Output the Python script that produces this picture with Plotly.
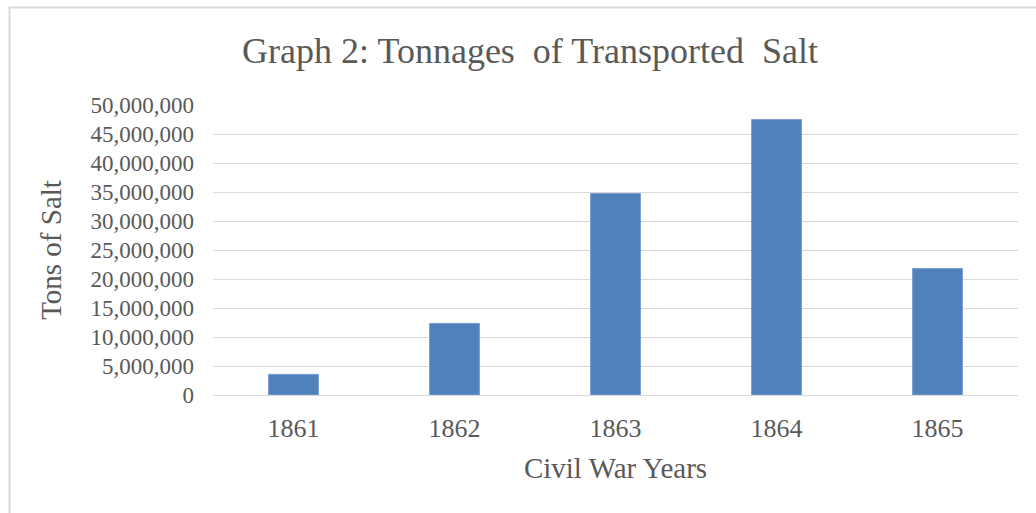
import plotly.graph_objects as go

years = ["1861", "1862", "1863", "1864", "1865"]
tons = [3560000, 12350000, 34740000, 47490000, 21820000]
y_ticks = [0, 5000000, 10000000, 15000000, 20000000, 25000000,
           30000000, 35000000, 40000000, 45000000, 50000000]
y_tick_text = ["0" if v == 0 else f"{v:,}" for v in y_ticks]

W, H = 1036, 513
ml, mr, mt, mb = 213, 18, 105, 118
pw, ph = W - ml - mr, H - mt - mb

FONT = "Liberation Serif, Times New Roman, serif"
GREY = "#595959"

fig = go.Figure(go.Bar(
    x=years, y=tons,
    marker=dict(color="#4F81BD", line=dict(color="#7d9fcf", width=1)),
    width=0.31,
))

fig.update_layout(
    width=W, height=H,
    margin=dict(l=ml, r=mr, t=mt, b=mb),
    paper_bgcolor="white", plot_bgcolor="white",
    font=dict(family=FONT, color=GREY),
    showlegend=False,
    title=dict(text="Graph 2: Tonnages  of Transported  Salt",
               x=530 / W, xanchor="center", xref="container",
               y=1 - 50 / H, yanchor="middle", yref="container",
               font=dict(size=36, family=FONT, color=GREY)),
    xaxis=dict(
        title=dict(text="Civil War Years", font=dict(size=29), standoff=15),
        tickfont=dict(size=26), showgrid=False,
        showline=True, linecolor="#d9d9d9", linewidth=1,
        ticks="", ticklabelstandoff=10,
    ),
    yaxis=dict(
        title=dict(text="Tons of Salt", font=dict(size=29), standoff=20),
        range=[0, 50000000], tickvals=y_ticks, ticktext=y_tick_text,
        tickfont=dict(size=23), showgrid=True, gridcolor="#d9d9d9", gridwidth=1,
        zeroline=False, showline=False, ticks="", ticklabelstandoff=18,
    ),
    shapes=[dict(type="rect", xref="paper", yref="paper",
                 x0=(9.5 - ml) / pw, x1=(W + 20 - ml) / pw,
                 y0=-(H + 20 - mt - ph) / ph - 0.2, y1=1 + (mt - 7.5) / ph,
                 line=dict(color="#d9d9d9", width=2), layer="below")],
)

fig.write_html("out.html",
               config={"displayModeBar": False},
               post_script="document.body.style.margin='0';document.body.style.overflow='hidden';")
